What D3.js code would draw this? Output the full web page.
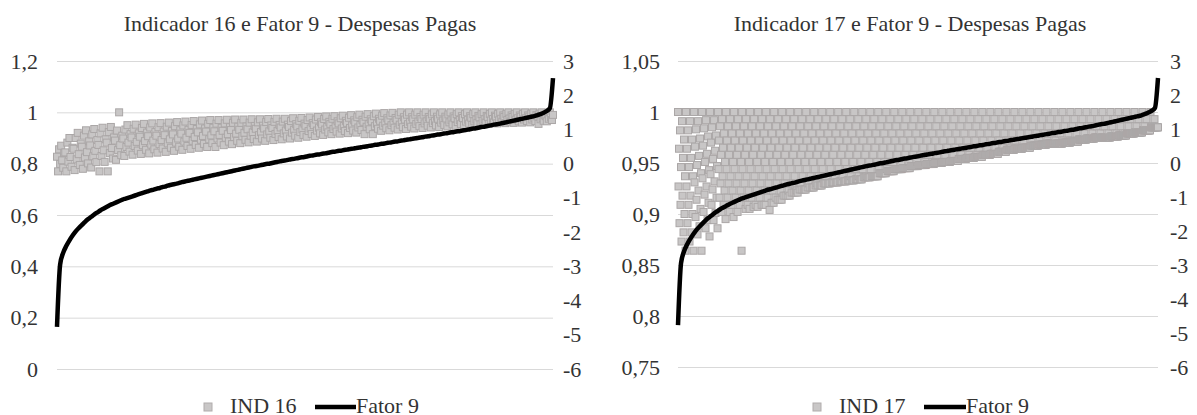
<!DOCTYPE html>
<html><head><meta charset="utf-8">
<script src="https://cdn.jsdelivr.net/npm/d3@7"></script>
<style>html,body{margin:0;padding:0;background:#fff;}svg{display:block;}</style>
</head><body>
<script>
// ---------- DATA ----------
const titles = ["Indicador 16 e Fator 9 - Despesas Pagas", "Indicador 17 e Fator 9 - Despesas Pagas"];
const scatterNames = ["IND 16", "IND 17"];
const lineName = "Fator 9";

const ticks16 = [0, 0.2, 0.4, 0.6, 0.8, 1, 1.2];
const tickLabels16 = ["0", "0,2", "0,4", "0,6", "0,8", "1", "1,2"];
const ticks17 = [0.75, 0.8, 0.85, 0.9, 0.95, 1, 1.05];
const tickLabels17 = ["0,75", "0,8", "0,85", "0,9", "0,95", "1", "1,05"];
const ticksFator = [-6, -5, -4, -3, -2, -1, 0, 1, 2, 3];
const tickLabelsFator = ["-6", "-5", "-4", "-3", "-2", "-1", "0", "1", "2", "3"];

// Fator 9 (sorted), shared by both panels
const fator9Values = [
-4.77,-2.95,-2.60,-2.40,-2.24,-2.10,-1.98,-1.88,-1.79,-1.70,
-1.62,-1.55,-1.48,-1.42,-1.36,-1.31,-1.26,-1.21,-1.17,-1.13,
-1.09,-1.05,-1.02,-0.99,-0.96,-0.93,-0.90,-0.87,-0.84,-0.81,
-0.78,-0.76,-0.73,-0.71,-0.68,-0.66,-0.63,-0.61,-0.59,-0.57,
-0.54,-0.52,-0.50,-0.48,-0.46,-0.44,-0.42,-0.40,-0.38,-0.36,
-0.34,-0.32,-0.30,-0.28,-0.26,-0.24,-0.22,-0.20,-0.18,-0.16,
-0.14,-0.12,-0.10,-0.08,-0.07,-0.05,-0.03,-0.01,0.00,0.02,
0.04,0.06,0.08,0.09,0.11,0.13,0.14,0.16,0.18,0.19,
0.21,0.23,0.24,0.26,0.27,0.29,0.30,0.32,0.34,0.35,
0.37,0.38,0.40,0.41,0.43,0.44,0.46,0.47,0.49,0.50,
0.52,0.53,0.55,0.56,0.58,0.59,0.61,0.62,0.64,0.65,
0.67,0.68,0.70,0.71,0.73,0.74,0.76,0.77,0.79,0.80,
0.82,0.83,0.85,0.86,0.88,0.89,0.91,0.92,0.94,0.95,
0.97,0.98,1.00,1.02,1.03,1.05,1.07,1.08,1.10,1.12,
1.14,1.15,1.17,1.19,1.21,1.23,1.25,1.27,1.29,1.31,
1.33,1.35,1.37,1.39,1.42,1.45,1.49,1.54,1.62,2.50];

// IND 16 (left panel), in sorted order of Fator 9
const ind16Values = [
.827,.770,.856,.799,.870,.813,.784,.841, .844,.770,.882,.808,.900,.826,.788,.862,
.858,.775,.900,.817,.920,.837,.795,.878, .866,.780,.909,.824,.930,.845,.801,.887,
.871,.785,.914,.829,.935,.850,.806,.892, .873,.770,.918,.830,.940,.852,.807,.895,
.882,.770,.923,.841,.943,.861,.820,.902, .890,.815,.929,.853,1.0,.872,.833,.909,
.898,.830,.933,.865,.950,.882,.847,.915, .902,.835,.936,.869,.952,.885,.851,.918,
.905,.838,.939,.872,.955,.888,.854,.921, .907,.840,.941,.874,.957,.890,.856,.923,
.909,.843,.942,.876,.958,.892,.859,.925, .911,.846,.944,.879,.960,.895,.862,.927,
.914,.850,.946,.882,.962,.898,.866,.930, .917,.854,.949,.886,.964,.901,.869,.932,
.920,.858,.951,.889,.966,.904,.873,.935, .922,.862,.953,.893,.968,.908,.877,.937,
.925,.865,.955,.895,.970,.910,.880,.940, .926,.865,.956,.898,.970,.912,.882,.940,
.928,.872,.957,.901,.971,.915,.886,.942, .931,.876,.959,.904,.972,.917,.889,.944,
.932,.880,.959,.907,.972,.920,.893,.945, .934,.883,.960,.909,.973,.922,.896,.947,
.936,.886,.961,.911,.973,.923,.898,.948, .937,.889,.962,.914,.974,.926,.901,.949,
.939,.892,.963,.916,.975,.928,.904,.951, .941,.895,.964,.918,.975,.929,.906,.952,
.943,.898,.966,.921,.977,.932,.909,.954, .945,.901,.967,.923,.978,.934,.912,.956,
.948,.905,.970,.927,.980,.937,.916,.958, .950,.908,.972,.929,.982,.940,.918,.961,
.953,.912,.974,.933,.984,.943,.922,.963, .955,.915,.975,.935,.985,.945,.925,.965,
.957,.917,.977,.937,.987,.947,.927,.967, .959,.919,.979,.939,.989,.949,.929,.969,
.961,.921,.981,.941,.991,.951,.931,.971, .963,.915,.983,.944,.993,.954,.934,.973,
.965,.915,.985,.946,.995,.956,.936,.975, .967,.928,.987,.948,.997,.958,.938,.977,
.969,.930,.988,.950,.998,.959,.940,.978, .971,.933,.991,.952,1.0,.962,.942,.981,
.972,.935,.991,.954,1.0,.963,.944,.981, .973,.937,.991,.955,1.0,.964,.946,.982,
.974,.939,.991,.957,1.0,.965,.948,.982, .975,.941,.992,.958,1.0,.966,.949,.983,
.975,.943,.992,.960,1.0,.968,.951,.983, .976,.945,.992,.961,1.0,.969,.953,.984,
.977,.947,.993,.962,1.0,.970,.954,.985, .978,.949,.993,.964,1.0,.971,.956,.985,
.979,.951,.993,.965,1.0,.972,.958,.986, .980,.953,.993,.967,1.0,.973,.960,.986,
.981,.955,.994,.968,1.0,.974,.961,.987, .982,.957,.994,.969,1.0,.975,.963,.988,
.982,.958,.994,.970,1.0,.976,.964,.988, .982,.959,.994,.971,1.0,.977,.965,.988,
.983,.960,.994,.972,1.0,.977,.966,.988, .983,.961,.995,.972,1.0,.978,.966,.989,
.984,.955,.995,.973,1.0,.978,.967,.989, .985,.965,.995,.975,1.0,.980,.970,.990];

// IND 17 (right panel), in sorted order of Fator 9
const ind17Values = [
1,.927,.964,.891,.982,.909,.946,.873,.991,.918,.955,.882,.973,.900,.937,.864,
1,.927,.964,.891,.982,.909,.946,.873,.991,.918,.955,.882,.973,.900,.937,.864,
1,.931,.966,.897,.983,.914,.948,.880,.991,.923,.957,.888,.974,.905,.940,.864,
1,.935,.967,.902,.984,.919,.951,.886,.992,.927,.959,.894,.976,.911,.943,.878,
1,.939,.970,.909,.985,.924,.954,.894,.992,.932,.962,.901,.977,.916,.947,.886,
1,.944,.972,.916,.986,.930,.958,.902,.993,.937,.965,.909,.979,.923,.951,.895,
1,.944,.972,.916,.986,.930,.958,.902,.993,.937,.965,.909,.979,.923,.951,.897,
1,.944,.972,.916,.986,.930,.958,.902,.993,.937,.965,.909,.979,.923,.951,.864,
1,.944,.972,.916,.986,.930,.958,.905,.993,.937,.965,.909,.979,.923,.951,.905,
1,.944,.972,.916,.986,.930,.958,.907,.993,.937,.965,.909,.979,.923,.951,.907,
1,.944,.972,.916,.986,.930,.958,.909,.993,.937,.965,.909,.979,.923,.951,.909,
1,.944,.972,.916,.986,.930,.958,.904,.993,.937,.965,.911,.979,.923,.951,.911,
1,.944,.972,.916,.986,.930,.958,.914,.993,.937,.965,.914,.979,.923,.951,.914,
1,.944,.972,.918,.986,.930,.958,.918,.993,.937,.965,.918,.979,.923,.951,.918,
1,.944,.972,.921,.986,.930,.958,.921,.993,.937,.965,.921,.979,.923,.951,.921,
1,.944,.972,.924,.986,.930,.958,.924,.993,.937,.965,.924,.979,.924,.951,.924,
1,.944,.972,.926,.986,.930,.958,.926,.993,.937,.965,.926,.979,.926,.951,.926,
1,.944,.972,.928,.986,.930,.958,.928,.993,.937,.965,.928,.979,.928,.951,.928,
1,.944,.972,.930,.986,.930,.958,.930,.993,.937,.965,.930,.979,.930,.951,.930,
1,.944,.972,.931,.986,.931,.958,.931,.993,.937,.965,.931,.979,.931,.951,.931,
1,.944,.972,.932,.986,.932,.958,.932,.993,.937,.965,.932,.979,.932,.951,.932,
1,.944,.972,.933,.986,.933,.958,.933,.993,.937,.965,.933,.979,.933,.951,.933,
1,.944,.972,.934,.986,.934,.958,.934,.993,.937,.965,.934,.979,.934,.951,.934,
1,.944,.972,.936,.986,.936,.958,.936,.993,.937,.965,.936,.979,.936,.951,.936,
1,.944,.972,.937,.986,.937,.958,.937,.993,.937,.965,.937,.979,.937,.951,.937,
1,.944,.972,.940,.986,.940,.958,.940,.993,.940,.965,.940,.979,.940,.951,.940,
1,.944,.972,.942,.986,.942,.958,.942,.993,.942,.965,.942,.979,.942,.951,.942,
1,.944,.972,.944,.986,.944,.958,.944,.993,.944,.965,.944,.979,.944,.951,.944,
1,.945,.972,.945,.986,.945,.958,.945,.993,.945,.965,.945,.979,.945,.951,.945,
1,.947,.972,.947,.986,.947,.958,.947,.993,.947,.965,.947,.979,.947,.951,.947,
1,.948,.972,.948,.986,.948,.958,.948,.993,.948,.965,.948,.979,.948,.951,.948,
1,.949,.972,.949,.986,.949,.958,.949,.993,.949,.965,.949,.979,.949,.951,.949,
1,.950,.972,.950,.986,.950,.958,.950,.993,.950,.965,.950,.979,.950,.951,.950,
1,.951,.972,.951,.986,.951,.958,.951,.993,.951,.965,.951,.979,.951,.951,.951,
1,.952,.972,.952,.986,.952,.958,.952,.993,.952,.965,.952,.979,.952,.952,.952,
1,.954,.972,.954,.986,.954,.958,.954,.993,.954,.965,.954,.979,.954,.954,.954,
1,.955,.972,.955,.986,.955,.958,.955,.993,.955,.965,.955,.979,.955,.955,.955,
1,.956,.972,.956,.986,.956,.958,.956,.993,.956,.965,.956,.979,.956,.956,.956,
1,.958,.972,.958,.986,.958,.958,.958,.993,.958,.965,.958,.979,.958,.958,.958,
1,.959,.972,.959,.986,.959,.959,.959,.993,.959,.965,.959,.979,.959,.959,.959,
1,.961,.972,.961,.986,.961,.961,.961,.993,.961,.965,.961,.979,.961,.961,.961,
1,.963,.972,.963,.986,.963,.963,.963,.993,.963,.965,.963,.979,.963,.963,.963,
1,.964,.972,.964,.986,.964,.964,.964,.993,.964,.965,.964,.979,.964,.964,.964,
1,.965,.972,.965,.986,.965,.965,.965,.993,.965,.965,.965,.979,.965,.965,.965,
1,.967,.972,.967,.986,.967,.967,.967,.993,.967,.967,.967,.979,.967,.967,.967,
1,.968,.972,.968,.986,.968,.968,.968,.993,.968,.968,.968,.979,.968,.968,.968,
1,.969,.972,.969,.986,.969,.969,.969,.993,.969,.969,.969,.979,.969,.969,.969,
1,.969,.972,.969,.986,.969,.969,.969,.993,.969,.969,.969,.979,.969,.969,.969,
1,.970,.972,.970,.986,.970,.970,.970,.993,.970,.970,.970,.979,.970,.970,.970,
1,.971,.972,.971,.986,.971,.971,.971,.993,.971,.971,.971,.979,.971,.971,.971,
1,.973,.973,.973,.986,.973,.973,.973,.993,.973,.973,.973,.979,.973,.973,.973,
1,.974,.974,.974,.986,.974,.974,.974,.993,.974,.974,.974,.979,.974,.974,.974,
1,.975,.975,.975,.986,.975,.975,.975,.993,.975,.975,.975,.979,.975,.975,.975,
1,.975,.975,.975,.986,.975,.975,.975,.993,.975,.975,.975,.979,.975,.975,.975,
1,.976,.976,.976,.986,.976,.976,.976,.993,.976,.976,.976,.979,.976,.976,.976,
1,.977,.977,.977,.986,.977,.977,.977,.993,.977,.977,.977,.979,.977,.977,.977,
1,.979,.979,.979,.986,.979,.979,.979,.993,.979,.979,.979,.979,.979,.979,.979,
1,.980,.980,.980,.986,.980,.980,.980,.993,.980,.980,.980,.980,.980,.980,.980,
1,.982,.982,.982,.986,.982,.982,.982,.993,.982,.982,.982,.982,.982,.982,.982,
1,.985,.985,.985,.986,.985,.985,.985,.993,.985,.985,.985,.985,.985,.985,.985];

// ---------- LAYOUT ----------
const W = 1197, H = 415;
const FONT = "Liberation Serif";
const TEXT = "#333333";
const FS = 22;
const panels = [
  {title: titles[0], titleX: 300, name: scatterNames[0], values: ind16Values,
   domain: [0, 1.2], ticks: ticks16, labels: tickLabels16,
   x0: 57, x1: 553, yTop: 61, yBot: 369, leftLabX: 38, rightLabX: 563,
   legSq: 208, legText: 230, legLine: [315, 356]},
  {title: titles[1], titleX: 910, name: scatterNames[1], values: ind17Values,
   domain: [0.75, 1.05], ticks: ticks17, labels: tickLabels17,
   x0: 678, x1: 1158, yTop: 61, yBot: 367, leftLabX: 660, rightLabX: 1170,
   legSq: 817, legText: 839, legLine: [924, 966]}
];

const svg = d3.select("body").append("svg").attr("width", W).attr("height", H)
  .attr("font-family", FONT);

panels.forEach(p => {
  const g = svg.append("g");
  const yL = d3.scaleLinear().domain(p.domain).range([p.yBot, p.yTop]);
  const yR = d3.scaleLinear().domain([-6, 3]).range([p.yBot, p.yTop]);
  const xs = d3.scaleLinear().domain([0, p.values.length - 1]).range([p.x0, p.x1]);
  const xl = d3.scaleLinear().domain([0, fator9Values.length - 1]).range([p.x0, p.x1]);

  g.append("text").attr("x", p.titleX).attr("y", 31).attr("text-anchor", "middle")
    .attr("font-family", FONT).attr("font-size", FS).attr("fill", TEXT).text(p.title);

  const axL = d3.axisLeft(yL).tickValues(p.ticks).tickSize(-(p.x1 - p.x0))
    .tickPadding(p.x0 - p.leftLabX).tickFormat((d, i) => p.labels[i]);
  const gl = g.append("g").attr("transform", `translate(${p.x0},0)`).call(axL)
    .attr("font-family", FONT).attr("font-size", FS);
  gl.select(".domain").remove();
  gl.selectAll(".tick line").attr("stroke", "#d9d9d9").attr("stroke-width", 1);
  gl.selectAll(".tick text").attr("fill", TEXT);

  const axR = d3.axisRight(yR).tickValues(ticksFator).tickSize(0)
    .tickPadding(p.rightLabX - p.x1).tickFormat((d, i) => tickLabelsFator[i]);
  const gr = g.append("g").attr("transform", `translate(${p.x1},0)`).call(axR)
    .attr("font-family", FONT).attr("font-size", FS);
  gr.select(".domain").remove();
  gr.selectAll(".tick line").remove();
  gr.selectAll(".tick text").attr("fill", TEXT);

  const s = 7;
  g.append("g").selectAll("rect").data(p.values).join("rect")
    .attr("x", (d, i) => xs(i) - s / 2).attr("y", d => yL(d) - s / 2)
    .attr("width", s).attr("height", s)
    .attr("fill", "#c8c6c6").attr("stroke", "#aba7a7").attr("stroke-width", 1);

  const line = d3.line().x((d, i) => xl(i)).y(d => yR(d)).curve(d3.curveMonotoneX);
  g.append("path").datum(fator9Values).attr("d", line)
    .attr("fill", "none").attr("stroke", "#000").attr("stroke-width", 4.5)
    .attr("stroke-linejoin", "round");

  const ly = 407;
  g.append("rect").attr("x", p.legSq - 4).attr("y", ly - 4).attr("width", 8).attr("height", 8)
    .attr("fill", "#c9c7c7").attr("stroke", "#b0acac");
  g.append("text").attr("x", p.legText).attr("y", 413).attr("font-size", FS)
    .attr("font-family", FONT).attr("fill", TEXT).text(p.name);
  g.append("line").attr("x1", p.legLine[0]).attr("x2", p.legLine[1]).attr("y1", ly).attr("y2", ly)
    .attr("stroke", "#000").attr("stroke-width", 4.5);
  g.append("text").attr("x", p.legLine[1]).attr("y", 413).attr("font-size", FS)
    .attr("font-family", FONT).attr("fill", TEXT).text(lineName);
});
</script>
</body></html>
